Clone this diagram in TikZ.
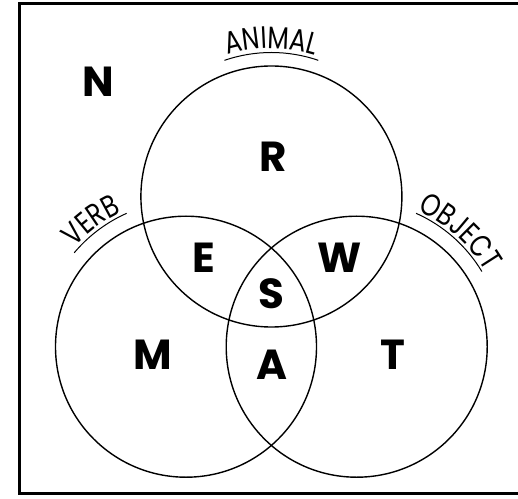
\documentclass[tikz,border=0pt]{standalone}
\usepackage{fontspec}
\newfontfamily\letterfont{Poppins}
\newfontfamily\labelfont{Poppins}[FakeStretch=0.8]
\usetikzlibrary{decorations.text}

\tikzset{
  set/.style={draw, circle, line width=1.4pt, minimum size=261pt, inner sep=0pt},
  region/.style={font=\letterfont\bfseries\fontsize{42}{42}\selectfont, inner sep=0pt},
  setname/.style={decorate, decoration={text along path, text align=center,
    text={|\labelfont\fontsize{31}{31}\selectfont|#1}}},
  underline/.style={line width=1pt}
}

\begin{document}
\begin{tikzpicture}[x=1pt, y=1pt]
  \clip (0,0) rectangle (518,498);
  \draw[line width=3pt] (19,5) rectangle (530,494.5);
  % the three sets
  \node[set] (animal) at (271.4,301.5) {};
  \node[set] (verb) at (186,151.3) {};
  \node[set] (object) at (356.7,151.3) {};
  % curved names
  \path[setname=ANIMAL] ([shift={(108:148)}]animal.center) arc[start angle=108, end angle=72, radius=148];
  \draw[underline] ([shift={(109:144)}]animal.center) arc[start angle=109, end angle=71, radius=144];
  \path[setname=VERB] ([shift={(140:149)}]verb.center) arc[start angle=140, end angle=114, radius=149];
  \draw[underline] ([shift={(140:146)}]verb.center) arc[start angle=140, end angle=114, radius=146];
  \path[setname=OBJECT] ([shift={(66:149)}]object.center) arc[start angle=66, end angle=30, radius=149];
  \draw[underline] ([shift={(66:146)}]object.center) arc[start angle=66, end angle=31, radius=146];
  % regions
  \node[region] (n) at (98,416.5) {N};
  \node[region] (r) at (273,341.5) {R};
  \node[region] (e) at (204,240.5) {E};
  \node[region] (w) at (340,240) {W};
  \node[region] (s) at (271,204.5) {S};
  \node[region] (m) at (153,143) {M};
  \node[region] (a) at (271.5,133) {A};
  \node[region] (t) at (392.5,143.5) {T};
\end{tikzpicture}
\end{document}
